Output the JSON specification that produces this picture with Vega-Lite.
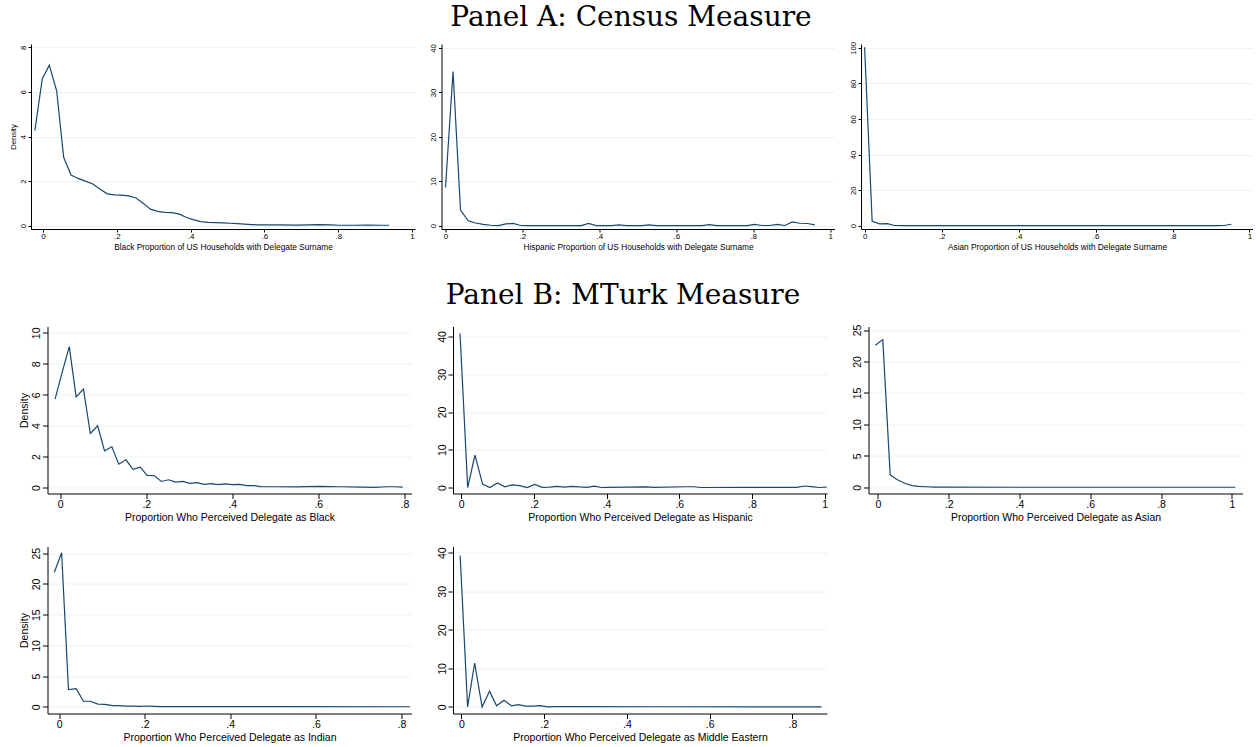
{
  "$schema": "https://vega.github.io/schema/vega-lite/v6.json",
  "background": "white",
  "padding": {"left": 9, "top": 4, "right": 0, "bottom": 0},
  "title": {"text": "Panel A: Census Measure", "offset": 9},
  "spacing": 30.5,
  "config": {
    "view": {"stroke": null},
    "title": {"font": "DejaVu Serif", "fontSize": 28, "fontWeight": "normal", "color": "black", "anchor": "middle"},
    "axis": {"labelFont": "Liberation Sans", "titleFont": "Liberation Sans", "labelColor": "black", "titleColor": "black", "domainColor": "black", "tickColor": "black", "titleFontWeight": "normal", "labelFontSize": 10.5, "titleFontSize": 10.5, "tickSize": 5, "domainWidth": 1, "tickWidth": 1, "gridColor": "#eaf2f3", "gridWidth": 1, "labelFlush": false, "labelOverlap": false},
    "axisX": {"grid": false, "labelPadding": 1, "titlePadding": 2, "labelExpr": "datum.value == 0 ? '0' : datum.value == 1 ? '1' : substring(format(datum.value, '.1f'), 1)"},
    "axisY": {"grid": true, "labelAngle": -90, "labelAlign": "center", "labelBaseline": "bottom", "labelPadding": 1, "titlePadding": 2, "format": "d"},
    "line": {"color": "#1a476f", "strokeWidth": 1.2}
  },
  "datasets": {
    "a1": [
      {"x": -0.022, "y": 4.26}, {"x": -0.002, "y": 6.58}, {"x": 0.017, "y": 7.2}, {"x": 0.037, "y": 6.05}, {"x": 0.056, "y": 3.07}, {"x": 0.076, "y": 2.27}, {"x": 0.095, "y": 2.12}, {"x": 0.115, "y": 2.0}, {"x": 0.135, "y": 1.87}, {"x": 0.154, "y": 1.65}, {"x": 0.174, "y": 1.43}, {"x": 0.193, "y": 1.38}, {"x": 0.213, "y": 1.37}, {"x": 0.232, "y": 1.34}, {"x": 0.252, "y": 1.24}, {"x": 0.272, "y": 1.0}, {"x": 0.291, "y": 0.74}, {"x": 0.311, "y": 0.64}, {"x": 0.33, "y": 0.6}, {"x": 0.35, "y": 0.59}, {"x": 0.37, "y": 0.52}, {"x": 0.389, "y": 0.37}, {"x": 0.409, "y": 0.26}, {"x": 0.428, "y": 0.18}, {"x": 0.448, "y": 0.15}, {"x": 0.468, "y": 0.14}, {"x": 0.487, "y": 0.13}, {"x": 0.507, "y": 0.11}, {"x": 0.526, "y": 0.09}, {"x": 0.546, "y": 0.07}, {"x": 0.566, "y": 0.05}, {"x": 0.585, "y": 0.04}, {"x": 0.605, "y": 0.04}, {"x": 0.644, "y": 0.04}, {"x": 0.683, "y": 0.03}, {"x": 0.722, "y": 0.04}, {"x": 0.742, "y": 0.05}, {"x": 0.781, "y": 0.04}, {"x": 0.801, "y": 0.02}, {"x": 0.84, "y": 0.02}, {"x": 0.879, "y": 0.03}, {"x": 0.918, "y": 0.02}, {"x": 0.938, "y": 0.02}
    ],
    "a2": [
      {"x": 0.0, "y": 8.6}, {"x": 0.0196, "y": 34.7}, {"x": 0.039, "y": 3.5}, {"x": 0.059, "y": 1.1}, {"x": 0.078, "y": 0.6}, {"x": 0.098, "y": 0.3}, {"x": 0.118, "y": 0.1}, {"x": 0.137, "y": 0.0}, {"x": 0.157, "y": 0.4}, {"x": 0.176, "y": 0.5}, {"x": 0.196, "y": 0.05}, {"x": 0.216, "y": 0.0}, {"x": 0.353, "y": 0.0}, {"x": 0.372, "y": 0.5}, {"x": 0.392, "y": 0.0}, {"x": 0.431, "y": 0.0}, {"x": 0.451, "y": 0.2}, {"x": 0.47, "y": 0.0}, {"x": 0.51, "y": 0.0}, {"x": 0.529, "y": 0.2}, {"x": 0.549, "y": 0.0}, {"x": 0.667, "y": 0.0}, {"x": 0.686, "y": 0.25}, {"x": 0.706, "y": 0.0}, {"x": 0.784, "y": 0.0}, {"x": 0.804, "y": 0.3}, {"x": 0.823, "y": 0.05}, {"x": 0.843, "y": 0.05}, {"x": 0.863, "y": 0.3}, {"x": 0.882, "y": 0.05}, {"x": 0.902, "y": 0.85}, {"x": 0.921, "y": 0.55}, {"x": 0.941, "y": 0.5}, {"x": 0.96, "y": 0.2}
    ],
    "a3": [
      {"x": 0.0, "y": 100.4}, {"x": 0.0196, "y": 2.5}, {"x": 0.039, "y": 1.0}, {"x": 0.059, "y": 1.2}, {"x": 0.078, "y": 0.1}, {"x": 0.1, "y": 0.0}, {"x": 0.5, "y": 0.0}, {"x": 0.913, "y": 0.0}, {"x": 0.933, "y": 0.1}, {"x": 0.953, "y": 0.8}
    ],
    "b1": [
      {"x": -0.012, "y": 5.71}, {"x": 0.004, "y": 7.4}, {"x": 0.021, "y": 9.11}, {"x": 0.037, "y": 5.86}, {"x": 0.054, "y": 6.36}, {"x": 0.07, "y": 3.49}, {"x": 0.087, "y": 3.99}, {"x": 0.103, "y": 2.37}, {"x": 0.12, "y": 2.63}, {"x": 0.136, "y": 1.51}, {"x": 0.153, "y": 1.79}, {"x": 0.169, "y": 1.17}, {"x": 0.186, "y": 1.32}, {"x": 0.202, "y": 0.78}, {"x": 0.219, "y": 0.76}, {"x": 0.235, "y": 0.39}, {"x": 0.252, "y": 0.5}, {"x": 0.268, "y": 0.35}, {"x": 0.285, "y": 0.39}, {"x": 0.301, "y": 0.27}, {"x": 0.318, "y": 0.31}, {"x": 0.334, "y": 0.2}, {"x": 0.351, "y": 0.25}, {"x": 0.367, "y": 0.18}, {"x": 0.384, "y": 0.23}, {"x": 0.4, "y": 0.18}, {"x": 0.417, "y": 0.2}, {"x": 0.433, "y": 0.12}, {"x": 0.45, "y": 0.12}, {"x": 0.466, "y": 0.06}, {"x": 0.483, "y": 0.05}, {"x": 0.5, "y": 0.05}, {"x": 0.55, "y": 0.04}, {"x": 0.6, "y": 0.07}, {"x": 0.65, "y": 0.05}, {"x": 0.7, "y": 0.03}, {"x": 0.73, "y": 0.01}, {"x": 0.76, "y": 0.05}, {"x": 0.78, "y": 0.05}, {"x": 0.796, "y": 0.02}
    ],
    "b2": [
      {"x": -0.003, "y": 40.8}, {"x": 0.018, "y": 0.0}, {"x": 0.038, "y": 8.6}, {"x": 0.059, "y": 0.9}, {"x": 0.079, "y": 0.0}, {"x": 0.1, "y": 1.2}, {"x": 0.12, "y": 0.2}, {"x": 0.141, "y": 0.7}, {"x": 0.161, "y": 0.5}, {"x": 0.182, "y": 0.0}, {"x": 0.202, "y": 0.8}, {"x": 0.223, "y": 0.05}, {"x": 0.243, "y": 0.1}, {"x": 0.264, "y": 0.3}, {"x": 0.284, "y": 0.1}, {"x": 0.305, "y": 0.3}, {"x": 0.325, "y": 0.15}, {"x": 0.346, "y": 0.05}, {"x": 0.366, "y": 0.35}, {"x": 0.387, "y": 0.0}, {"x": 0.407, "y": 0.05}, {"x": 0.51, "y": 0.15}, {"x": 0.53, "y": 0.05}, {"x": 0.62, "y": 0.2}, {"x": 0.64, "y": 0.2}, {"x": 0.66, "y": 0.0}, {"x": 0.8, "y": 0.05}, {"x": 0.923, "y": 0.05}, {"x": 0.944, "y": 0.4}, {"x": 0.964, "y": 0.25}, {"x": 0.985, "y": 0.0}, {"x": 1.005, "y": 0.1}
    ],
    "b3": [
      {"x": -0.007, "y": 22.57}, {"x": 0.014, "y": 23.48}, {"x": 0.035, "y": 2.0}, {"x": 0.054, "y": 1.25}, {"x": 0.076, "y": 0.65}, {"x": 0.097, "y": 0.27}, {"x": 0.116, "y": 0.15}, {"x": 0.137, "y": 0.1}, {"x": 0.159, "y": 0.05}, {"x": 0.2, "y": 0.03}, {"x": 0.5, "y": 0.02}, {"x": 1.01, "y": 0.02}
    ],
    "b4": [
      {"x": -0.011, "y": 21.9}, {"x": 0.006, "y": 25.06}, {"x": 0.022, "y": 2.82}, {"x": 0.04, "y": 2.98}, {"x": 0.057, "y": 0.92}, {"x": 0.073, "y": 0.92}, {"x": 0.091, "y": 0.45}, {"x": 0.107, "y": 0.4}, {"x": 0.125, "y": 0.2}, {"x": 0.14, "y": 0.2}, {"x": 0.156, "y": 0.12}, {"x": 0.172, "y": 0.12}, {"x": 0.189, "y": 0.1}, {"x": 0.205, "y": 0.15}, {"x": 0.222, "y": 0.1}, {"x": 0.238, "y": 0.05}, {"x": 0.3, "y": 0.05}, {"x": 0.5, "y": 0.04}, {"x": 0.82, "y": 0.03}
    ],
    "b5": [
      {"x": -0.003, "y": 39.3}, {"x": 0.015, "y": 0.0}, {"x": 0.032, "y": 11.4}, {"x": 0.05, "y": 0.0}, {"x": 0.068, "y": 4.07}, {"x": 0.085, "y": 0.3}, {"x": 0.103, "y": 1.7}, {"x": 0.121, "y": 0.3}, {"x": 0.138, "y": 0.6}, {"x": 0.155, "y": 0.2}, {"x": 0.173, "y": 0.2}, {"x": 0.19, "y": 0.35}, {"x": 0.208, "y": 0.0}, {"x": 0.225, "y": 0.1}, {"x": 0.25, "y": 0.05}, {"x": 0.5, "y": 0.04}, {"x": 0.87, "y": 0.03}
    ],
    "empty": []
  },
  "vconcat": [
    {
      "spacing": 14.5,
      "hconcat": [
        {
          "data": {"name": "a1"}, "width": 384, "height": 185, "mark": {"type": "line"},
          "encoding": {
            "x": {"field": "x", "type": "quantitative", "scale": {"domain": [-0.0325, 1.008], "nice": false, "zero": false}, "axis": {"title": "Black Proportion of US Households with Delegate Surname", "values": [0, 0.2, 0.4, 0.6, 0.8, 1], "labelFontSize": 8, "titleFontSize": 8.3, "tickSize": 3, "labelPadding": 0, "titlePadding": 2}},
            "y": {"field": "y", "type": "quantitative", "scale": {"domain": [-0.148, 8.148], "nice": false, "zero": false}, "axis": {"title": "Density", "values": [0, 2, 4, 6, 8], "labelFontSize": 7.7, "titleFontSize": 7.7, "tickSize": 3, "labelPadding": 1, "titlePadding": 2}}
          }
        },
        {
          "data": {"name": "a2"}, "width": 393, "height": 185, "mark": {"type": "line"},
          "encoding": {
            "x": {"field": "x", "type": "quantitative", "scale": {"domain": [-0.0104, 1.0114], "nice": false, "zero": false}, "axis": {"title": "Hispanic Proportion of US Households with Delegate Surname", "values": [0, 0.2, 0.4, 0.6, 0.8, 1], "labelFontSize": 8, "titleFontSize": 8.3, "tickSize": 3, "labelPadding": 0, "titlePadding": 2}},
            "y": {"field": "y", "type": "quantitative", "scale": {"domain": [-0.743, 40.9], "nice": false, "zero": false}, "axis": {"title": null, "values": [0, 10, 20, 30, 40], "labelFontSize": 7.7, "tickSize": 3, "labelPadding": 1}}
          }
        },
        {
          "data": {"name": "a3"}, "width": 392, "height": 185, "mark": {"type": "line"},
          "encoding": {
            "x": {"field": "x", "type": "quantitative", "scale": {"domain": [-0.00935, 1.0091], "nice": false, "zero": false}, "axis": {"title": "Asian Proportion of US Households with Delegate Surname", "values": [0, 0.2, 0.4, 0.6, 0.8, 1], "labelFontSize": 8, "titleFontSize": 8.3, "tickSize": 3, "labelPadding": 0, "titlePadding": 2}},
            "y": {"field": "y", "type": "quantitative", "scale": {"domain": [-1.86, 102.2], "nice": false, "zero": false}, "axis": {"title": null, "values": [0, 20, 40, 60, 80, 100], "labelFontSize": 7.7, "tickSize": 3, "labelPadding": 1}}
          }
        }
      ]
    },
    {
      "spacing": -12.5,
      "hconcat": [
        {"data": {"name": "empty"}, "width": 1, "height": 1, "mark": {"type": "point"}, "encoding": {}},
        {
          "title": {"text": "Panel B: MTurk Measure", "offset": 14, "dx": -8},
          "columns": 3,
          "spacing": {"row": 24, "column": 23.5},
          "concat": [
            {
              "data": {"name": "b1"}, "width": 364, "height": 167, "mark": {"type": "line"},
              "encoding": {
                "x": {"field": "x", "type": "quantitative", "scale": {"domain": [-0.0296, 0.8166], "nice": false, "zero": false}, "axis": {"title": "Proportion Who Perceived Delegate as Black", "values": [0, 0.2, 0.4, 0.6, 0.8]}},
                "y": {"field": "y", "type": "quantitative", "scale": {"domain": [-0.388, 10.41], "nice": false, "zero": false}, "axis": {"title": "Density", "values": [0, 2, 4, 6, 8, 10]}}
              }
            },
            {
              "data": {"name": "b2"}, "width": 374, "height": 167, "mark": {"type": "line"},
              "encoding": {
                "x": {"field": "x", "type": "quantitative", "scale": {"domain": [-0.0224, 1.0063], "nice": false, "zero": false}, "axis": {"title": "Proportion Who Perceived Delegate as Hispanic", "values": [0, 0.2, 0.4, 0.6, 0.8, 1]}},
                "y": {"field": "y", "type": "quantitative", "scale": {"domain": [-1.59, 42.65], "nice": false, "zero": false}, "axis": {"title": null, "values": [0, 10, 20, 30, 40]}}
              }
            },
            {
              "data": {"name": "b3"}, "width": 374, "height": 167, "mark": {"type": "line"},
              "encoding": {
                "x": {"field": "x", "type": "quantitative", "scale": {"domain": [-0.0263, 1.0302], "nice": false, "zero": false}, "axis": {"title": "Proportion Who Perceived Delegate as Asian", "values": [0, 0.2, 0.4, 0.6, 0.8, 1]}},
                "y": {"field": "y", "type": "quantitative", "scale": {"domain": [-0.97, 25.56], "nice": false, "zero": false}, "axis": {"title": null, "values": [0, 5, 10, 15, 20, 25]}}
              }
            },
            {
              "data": {"name": "b4"}, "width": 364, "height": 167, "mark": {"type": "line"},
              "encoding": {
                "x": {"field": "x", "type": "quantitative", "scale": {"domain": [-0.027, 0.8235], "nice": false, "zero": false}, "axis": {"title": "Proportion Who Perceived Delegate as Indian", "values": [0, 0.2, 0.4, 0.6, 0.8]}},
                "y": {"field": "y", "type": "quantitative", "scale": {"domain": [-1.07, 26.09], "nice": false, "zero": false}, "axis": {"title": "Density", "values": [0, 5, 10, 15, 20, 25]}}
              }
            },
            {
              "data": {"name": "b5"}, "width": 374, "height": 167, "mark": {"type": "line"},
              "encoding": {
                "x": {"field": "x", "type": "quantitative", "scale": {"domain": [-0.0203, 0.8835], "nice": false, "zero": false}, "axis": {"title": "Proportion Who Perceived Delegate as Middle Eastern", "values": [0, 0.2, 0.4, 0.6, 0.8]}},
                "y": {"field": "y", "type": "quantitative", "scale": {"domain": [-1.71, 41.63], "nice": false, "zero": false}, "axis": {"title": null, "values": [0, 10, 20, 30, 40]}}
              }
            }
          ]
        }
      ]
    }
  ]
}
